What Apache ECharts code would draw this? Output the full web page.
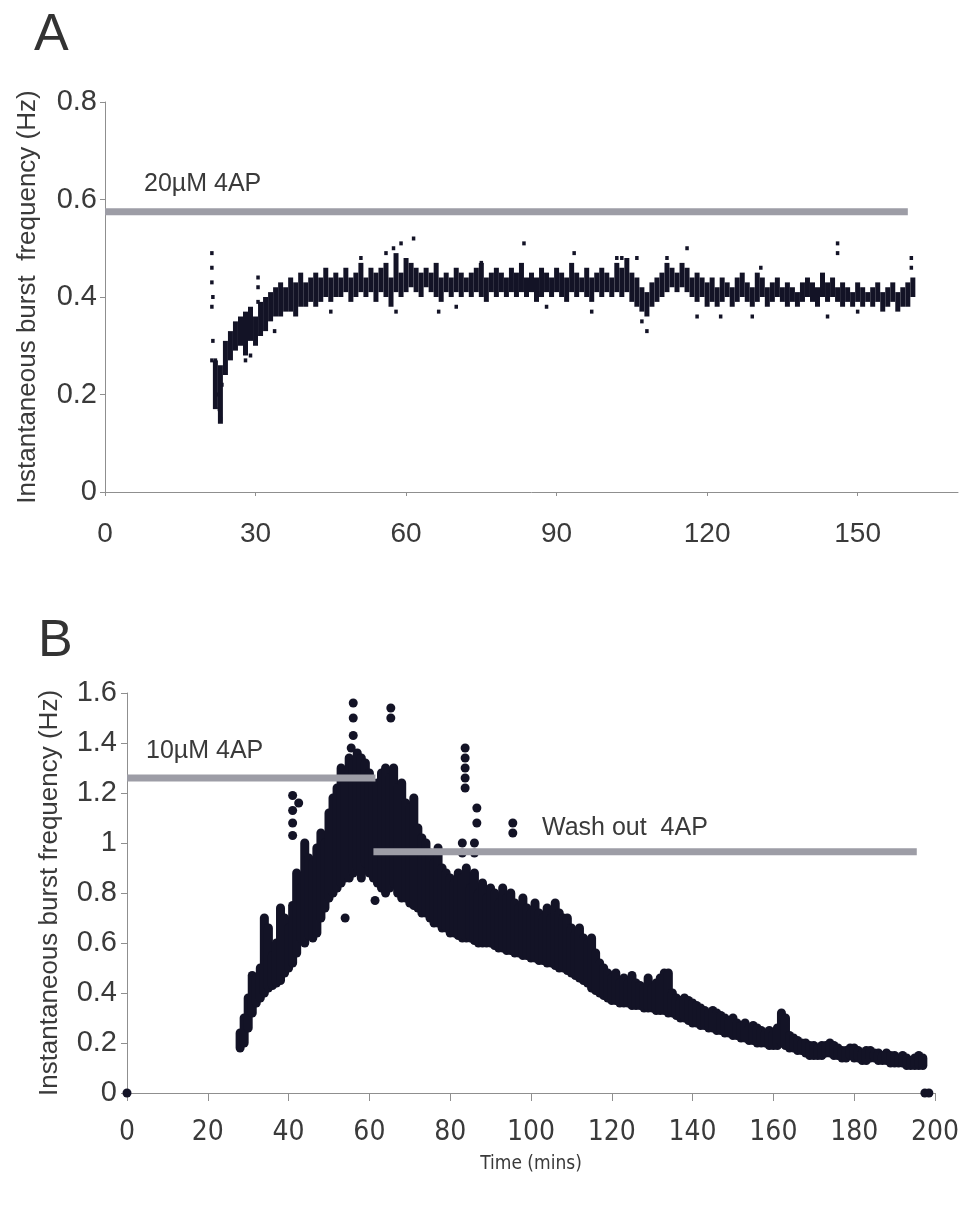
<!DOCTYPE html>
<html>
<head>
<meta charset="utf-8"/>
<title>burst frequency</title>
<script src="https://cdn.jsdelivr.net/npm/echarts@6/dist/echarts.min.js"></script>
<style>
  html, body { margin: 0; padding: 0; background: #fff; }
  #chart { width: 962px; height: 1209px; }
</style>
</head>
<body>
<div id="chart"></div>
<script>
// ---- panel A : 20uM 4AP (one column per minute, low / high of the band) ----
var tA = [22,23,24,25,26,27,28,29,30,31,32,33,34,35,36,37,38,39,40,41,42,43,44,45,46,47,48,49,50,51,52,53,54,55,56,57,58,59,60,
  61,62,63,64,65,66,67,68,69,70,71,72,73,74,75,76,77,78,79,80,81,82,83,84,85,86,87,88,89,90,91,92,93,94,95,96,97,98,99,100,
  101,102,103,104,105,106,107,108,109,110,111,112,113,114,115,116,117,118,119,120,121,122,123,124,125,126,127,128,129,130,
  131,132,133,134,135,136,137,138,139,140,141,142,143,144,145,146,147,148,149,150,151,152,153,154,155,156,157,158,159,160,161];
var lowA = [0.17,0.14,0.24,0.27,0.29,0.30,0.28,0.31,0.30,0.32,0.33,0.35,0.36,0.36,0.37,0.37,0.36,0.38,0.38,0.39,0.38,0.39,0.40,0.39,0.40,0.40,0.41,0.39,0.40,0.41,0.40,0.41,0.39,0.41,0.40,0.38,0.41,0.40,0.41,
  0.42,0.41,0.40,0.42,0.41,0.40,0.39,0.41,0.40,0.41,0.40,0.41,0.40,0.41,0.40,0.39,0.41,0.40,0.41,0.40,0.41,0.40,0.41,0.40,0.41,0.39,0.40,0.41,0.40,0.41,0.40,0.39,0.41,0.40,0.41,0.40,0.39,0.41,0.40,0.41,
  0.40,0.41,0.40,0.41,0.39,0.38,0.37,0.36,0.38,0.39,0.40,0.41,0.42,0.41,0.42,0.41,0.40,0.39,0.40,0.38,0.39,0.38,0.39,0.40,0.38,0.39,0.40,0.39,0.38,0.39,
  0.40,0.38,0.39,0.40,0.39,0.38,0.39,0.38,0.39,0.40,0.39,0.38,0.40,0.39,0.40,0.39,0.38,0.39,0.38,0.39,0.38,0.39,0.38,0.39,0.37,0.38,0.39,0.37,0.38,0.38,0.40];
var highA = [0.27,0.26,0.31,0.33,0.35,0.36,0.37,0.38,0.36,0.39,0.40,0.41,0.42,0.43,0.42,0.44,0.43,0.45,0.43,0.44,0.45,0.44,0.46,0.44,0.45,0.44,0.46,0.44,0.45,0.47,0.44,0.46,0.45,0.46,0.47,0.44,0.49,0.45,0.48,
  0.47,0.46,0.45,0.46,0.45,0.47,0.44,0.45,0.44,0.46,0.45,0.44,0.45,0.46,0.47,0.44,0.45,0.46,0.45,0.44,0.46,0.45,0.47,0.44,0.45,0.44,0.46,0.45,0.44,0.46,0.45,0.44,0.47,0.45,0.44,0.46,0.44,0.45,0.46,0.45,
  0.44,0.47,0.46,0.48,0.45,0.44,0.42,0.41,0.43,0.44,0.45,0.47,0.46,0.45,0.47,0.46,0.44,0.45,0.44,0.43,0.44,0.42,0.44,0.43,0.42,0.44,0.45,0.43,0.42,0.45,
  0.44,0.42,0.43,0.44,0.42,0.43,0.42,0.41,0.43,0.44,0.43,0.42,0.45,0.43,0.44,0.42,0.43,0.42,0.41,0.43,0.42,0.41,0.42,0.43,0.41,0.42,0.43,0.41,0.42,0.43,0.44];
// scattered single readings in panel A
var dotsA = [[21.3,0.49],[21.3,0.46],[21.3,0.43],[21.5,0.40],[21.3,0.38],[21.5,0.31],[21.3,0.27],[22,0.27],[22.5,0.20],
  [22.8,0.17],[23,0.15],[23.3,0.22],[30.5,0.44],[30.5,0.42],[30.5,0.39],[28,0.27],[29,0.28],[33.8,0.33],[38,0.37],
  [45,0.37],[51,0.48],[56,0.49],[57.5,0.50],[59,0.51],[61.5,0.52],[58,0.37],[66.5,0.37],[70,0.38],[75,0.47],[83.5,0.51],
  [88,0.38],[93.5,0.49],[97,0.37],[102,0.48],[103,0.48],[104,0.47],[106,0.48],[107,0.35],[108,0.33],[112,0.48],[116,0.50],
  [118,0.36],[122.7,0.36],[129,0.36],[130.7,0.46],[144,0.36],[146,0.49],[146,0.51],[150,0.37],[160.7,0.48],[160.7,0.46]];
var barA = [[0,0.575],[160,0.575]];

// ---- panel B : 10uM 4AP then wash out ----
var tB = [], lowB, highB;
for (var m = 28; m <= 197; m++) tB.push(m);
lowB = [0.18,0.20,0.26,0.32,0.36,0.38,0.40,0.42,0.43,0.44,0.45,0.48,0.50,0.52,0.56,0.62,0.60,0.63,0.62,0.64,0.70,0.74,
  0.78,0.80,0.82,0.84,0.86,0.86,0.88,0.90,0.86,0.92,0.88,0.86,0.84,0.82,0.80,0.82,0.84,0.80,0.78,0.78,0.76,0.75,0.74,0.72,
  0.72,0.70,0.68,0.68,0.66,0.66,0.64,0.64,0.63,0.62,0.62,0.62,0.61,0.60,0.60,0.60,0.60,0.59,0.58,0.58,0.57,0.57,0.56,0.56,
  0.55,0.55,0.54,0.54,0.53,0.53,0.52,0.52,0.51,0.50,0.50,0.49,0.48,0.47,0.46,0.45,0.44,0.42,0.41,0.40,0.39,0.38,0.37,0.37,
  0.36,0.36,0.36,0.35,0.35,0.35,0.34,0.34,0.34,0.33,0.33,0.33,0.32,0.32,0.31,0.30,0.30,0.29,0.28,0.28,0.27,0.27,0.26,0.26,
  0.25,0.25,0.24,0.24,0.23,0.23,0.22,0.22,0.21,0.21,0.20,0.20,0.20,0.19,0.19,0.19,0.20,0.19,0.18,0.18,0.17,0.17,0.16,0.15,
  0.15,0.15,0.15,0.16,0.16,0.15,0.15,0.14,0.14,0.15,0.14,0.14,0.13,0.13,0.14,0.14,0.13,0.13,0.13,0.12,0.12,0.12,0.12,0.11,
  0.11,0.11,0.11,0.11];
highB = [0.24,0.30,0.38,0.47,0.46,0.50,0.70,0.66,0.55,0.60,0.74,0.70,0.66,0.75,0.88,0.82,1.00,0.94,0.92,0.98,1.04,1.00,
  1.12,1.18,1.22,1.30,1.26,1.34,1.32,1.36,1.34,1.32,1.28,1.24,1.24,1.28,1.30,1.26,1.30,1.22,1.24,1.16,1.14,1.18,1.06,1.02,
  1.00,0.96,0.92,0.98,0.90,0.88,0.86,0.84,0.88,0.86,0.90,0.82,0.88,0.80,0.84,0.78,0.82,0.80,0.76,0.82,0.78,0.80,0.76,0.74,
  0.78,0.74,0.72,0.76,0.72,0.70,0.74,0.70,0.76,0.72,0.70,0.70,0.66,0.64,0.66,0.62,0.60,0.62,0.56,0.52,0.50,0.48,0.46,0.48,
  0.44,0.46,0.44,0.47,0.44,0.43,0.42,0.46,0.42,0.44,0.46,0.48,0.48,0.40,0.38,0.37,0.38,0.37,0.36,0.35,0.34,0.33,0.32,0.33,
  0.32,0.31,0.30,0.29,0.30,0.28,0.27,0.28,0.26,0.27,0.26,0.25,0.24,0.25,0.24,0.26,0.32,0.30,0.23,0.22,0.21,0.20,0.20,0.19,
  0.19,0.18,0.19,0.19,0.20,0.19,0.18,0.17,0.17,0.18,0.18,0.17,0.16,0.17,0.17,0.16,0.16,0.15,0.16,0.15,0.15,0.14,0.15,0.14,
  0.13,0.14,0.15,0.14];
var dotsB = [[0,0],[197.5,0],[198.5,0],[41,1.03],[41,1.08],[41,1.13],[41,1.19],[42.5,1.16],[54,0.70],[55.5,1.38],
  [56,1.43],[56,1.50],[56,1.56],[65.3,1.50],[65.3,1.54],[61.4,0.77],[83,0.96],[83,1.00],[83.7,1.22],[83.7,1.26],
  [83.7,1.30],[83.7,1.34],[83.7,1.38],[86,0.96],[86,1.00],[86.6,1.08],[86.6,1.14],[95.5,1.04],[95.5,1.08]];
var barB1 = [[0,1.26],[61.5,1.26]];
var barB2 = [[61,0.965],[195.5,0.965]];

var dark = '#131326', grey = '#9d9da6', txt = '#3a3a3a', axisCol = '#8f8f8f';
var sans = 'Liberation Sans, Arial, sans-serif';
var narrow = '"Liberation Sans Narrow", "Arial Narrow", "DejaVu Sans Condensed", sans-serif';

function rows(t, lo, hi) {
  var out = [];
  for (var i = 0; i < t.length; i++) out.push([t[i], lo[i], hi[i]]);
  return out;
}
function rangeRender(width, cap) {
  return function (params, api) {
    var a = api.coord([api.value(0), api.value(1)]);
    var b = api.coord([api.value(0), api.value(2)]);
    return {
      type: 'line',
      shape: { x1: a[0], y1: a[1], x2: b[0], y2: b[1] },
      style: { stroke: dark, lineWidth: width, lineCap: cap }
    };
  };
}
function fmt(v) { return String(+v.toFixed(1)); }

var myChart = echarts.init(document.getElementById('chart'));
var option = {
  animation: false,
  backgroundColor: '#fff',
  textStyle: { fontFamily: sans, color: txt },
  grid: [
    { left: 105, top: 102, width: 853, height: 390 },
    { left: 127, top: 693, width: 808, height: 400 }
  ],
  xAxis: [
    { gridIndex: 0, type: 'value', min: 0, max: 170, interval: 30,
      axisLine: { lineStyle: { color: axisCol, width: 1 } },
      axisTick: { show: true, length: 4, lineStyle: { color: axisCol } },
      splitLine: { show: false },
      axisLabel: { showMaxLabel: false, fontSize: 28, color: txt, margin: 28 } },
    { gridIndex: 1, type: 'value', min: 0, max: 200, interval: 20,
      axisLine: { lineStyle: { color: axisCol, width: 1 } },
      axisTick: { show: true, length: 8, lineStyle: { color: axisCol } },
      splitLine: { show: false },
      axisLabel: { fontSize: 28, color: txt, margin: 26, fontFamily: narrow },
      name: 'Time (mins)', nameLocation: 'middle', nameGap: 62,
      nameTextStyle: { fontSize: 19, color: txt, fontFamily: narrow } }
  ],
  yAxis: [
    { gridIndex: 0, type: 'value', min: 0, max: 0.8, interval: 0.2,
      axisLine: { show: true, lineStyle: { color: axisCol, width: 1 } },
      axisTick: { show: true, length: 5, lineStyle: { color: axisCol } },
      splitLine: { show: false },
      axisLabel: { formatter: fmt, fontSize: 29, color: txt, margin: 8 },
      name: 'Instantaneous burst  frequency (Hz)', nameLocation: 'middle', nameGap: 64,
      nameTextStyle: { fontSize: 26, color: txt } },
    { gridIndex: 1, type: 'value', min: 0, max: 1.6, interval: 0.2,
      axisLine: { show: true, lineStyle: { color: axisCol, width: 1 } },
      axisTick: { show: true, length: 6, lineStyle: { color: axisCol } },
      splitLine: { show: false },
      axisLabel: { formatter: fmt, fontSize: 29, color: txt, margin: 10 },
      name: 'Instantaneous burst frequency (Hz)', nameLocation: 'middle', nameGap: 64,
      nameTextStyle: { fontSize: 26, color: txt } }
  ],
  series: [
    { type: 'custom', xAxisIndex: 0, yAxisIndex: 0, renderItem: rangeRender(5, 'butt'),
      encode: { x: 0, y: [1, 2] }, data: rows(tA, lowA, highA), z: 2 },
    { type: 'scatter', xAxisIndex: 0, yAxisIndex: 0, symbol: 'rect', symbolSize: [3.5, 4],
      itemStyle: { color: dark, opacity: 1 }, data: dotsA, z: 2 },
    { type: 'line', xAxisIndex: 0, yAxisIndex: 0, data: barA, symbol: 'none',
      lineStyle: { color: grey, width: 7, cap: 'butt' }, z: 5 },
    { type: 'custom', xAxisIndex: 1, yAxisIndex: 1, renderItem: rangeRender(9, 'round'),
      encode: { x: 0, y: [1, 2] }, data: rows(tB, lowB, highB), z: 2 },
    { type: 'scatter', xAxisIndex: 1, yAxisIndex: 1, symbol: 'circle', symbolSize: 9,
      itemStyle: { color: dark, opacity: 1 }, data: dotsB, z: 2 },
    { type: 'line', xAxisIndex: 1, yAxisIndex: 1, data: barB1, symbol: 'none',
      lineStyle: { color: grey, width: 7, cap: 'butt' }, z: 5 },
    { type: 'line', xAxisIndex: 1, yAxisIndex: 1, data: barB2, symbol: 'none',
      lineStyle: { color: grey, width: 7, cap: 'butt' }, z: 5 }
  ],
  graphic: [
    { type: 'text', left: 34, top: 10, style: { text: 'A', fontSize: 52, fill: '#333', fontFamily: sans } },
    { type: 'text', left: 38, top: 616, style: { text: 'B', fontSize: 52, fill: '#333', fontFamily: sans } },
    { type: 'text', x: 144, y: 184, style: { text: '20\u00b5M 4AP', fontSize: 25, fill: txt, verticalAlign: 'middle', fontFamily: sans } },
    { type: 'text', x: 146, y: 751, style: { text: '10\u00b5M 4AP', fontSize: 25, fill: txt, verticalAlign: 'middle', fontFamily: sans } },
    { type: 'text', x: 542, y: 828, style: { text: 'Wash out  4AP', fontSize: 25, fill: txt, verticalAlign: 'middle', fontFamily: sans } }
  ]
};
myChart.setOption(option);
</script>
</body>
</html>
